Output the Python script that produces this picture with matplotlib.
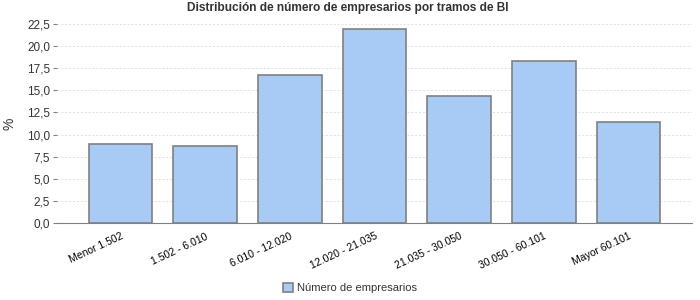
import matplotlib.pyplot as plt
from matplotlib.ticker import MultipleLocator, FuncFormatter

# data
categories = ['Menor 1.502', '1.502 - 6.010', '6.010 - 12.020', '12.020 - 21.035',
              '21.035 - 30.050', '30.050 - 60.101', 'Mayor 60.101']
values = [8.9, 8.7, 16.7, 21.9, 14.4, 18.3, 11.4]
series_name = 'Número de empresarios'
title = 'Distribución de número de empresarios por tramos de BI'

plt.rcParams['font.family'] = ['Liberation Sans', 'DejaVu Sans']

fig = plt.figure(figsize=(7, 3), dpi=100)
ax = fig.add_axes([0.0814, 0.2567, 0.9072, 0.6633])

x = range(len(categories))
ax.bar(x, values, width=0.755, color='#a8cbf5', edgecolor='#808080',
       linewidth=1.2, label=series_name, zorder=3)

ax.set_xlim(-0.75, 6.75)
ax.set_ylim(0, 22.5)
ax.yaxis.set_major_locator(MultipleLocator(2.5))
ax.yaxis.set_major_formatter(FuncFormatter(lambda v, p: f'{v:.1f}'.replace('.', ',')))
ax.grid(axis='y', color='#e0e0e0', linestyle=(0, (2, 2)), linewidth=0.7, zorder=0)

ax.set_xticks(list(x))
ax.set_xticklabels(categories, rotation=25, ha='right', rotation_mode='anchor')
ax.tick_params(axis='x', length=0, labelsize=7.5, pad=6, colors='#000000')
ax.tick_params(axis='y', length=3, labelsize=8.5, pad=2, color='#808080', labelcolor='#333333')

for s in ['top', 'right', 'left']:
    ax.spines[s].set_visible(False)
ax.spines['bottom'].set_color('#808080')

ax.set_ylabel('%', fontsize=10, color='#333333')
ax.yaxis.set_label_coords(-0.063, 0.5)

# title is centred on the whole figure, not on the axes
fig.suptitle(title, x=0.497, y=0.995, va='top', fontsize=8.6,
             fontweight='bold', color='#333333')

fig.legend(loc='lower center', bbox_to_anchor=(0.5, -0.01), frameon=False,
           fontsize=8, handlelength=0.9, handleheight=0.9, handletextpad=0.4,
           labelcolor='#333333')

plt.savefig('out.png', dpi=100)
